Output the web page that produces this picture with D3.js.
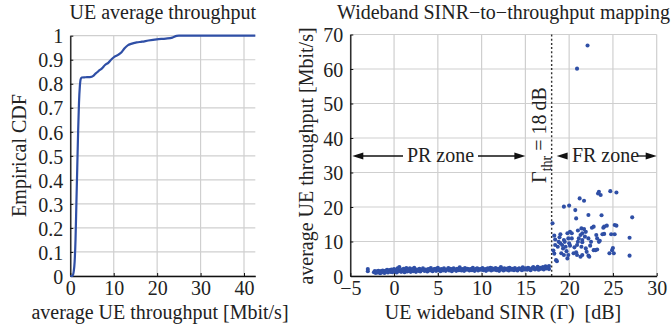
<!DOCTYPE html>
<html>
<head>
<meta charset="utf-8">
<script src="https://cdn.jsdelivr.net/npm/d3@7"></script>
<style>
  html, body { margin: 0; padding: 0; background: #fff; }
  svg { display: block; }
  text { font-family: "Liberation Serif", "DejaVu Serif", serif; fill: #222; }
</style>
</head>
<body>
<svg id="fig" width="671" height="327"></svg>
<script>
// ---- Left panel: empirical CDF of average UE throughput ----
const cdfThroughput = [0, 0.5, 0.8, 1.0, 1.2, 1.4, 1.6, 1.8, 2.0, 2.2, 2.4, 2.6, 3.5, 4.5, 5.3, 5.8, 6.5, 7.3, 8.0, 8.8, 9.5, 10.2, 11.0, 11.8, 12.5, 13.3, 14.0, 15.3, 16.5, 18.0, 19.9, 22.0, 23.5, 24.5, 25.0, 42.6];
const cdfValue      = [0, 0, 0.02, 0.06, 0.15, 0.30, 0.45, 0.60, 0.72, 0.79, 0.82, 0.826, 0.827, 0.828, 0.833, 0.842, 0.853, 0.864, 0.878, 0.888, 0.902, 0.913, 0.920, 0.931, 0.948, 0.961, 0.966, 0.972, 0.975, 0.980, 0.985, 0.988, 0.992, 0.999, 1, 1];
const cdfXTicks = [0, 10, 20, 30, 40];
const cdfYTicks = [0, 0.1, 0.2, 0.3, 0.4, 0.5, 0.6, 0.7, 0.8, 0.9, 1];

// ---- Right panel: wideband SINR vs. average throughput ----
// partial-reuse (PR) users below the threshold
const prSinr = [-3.0, -3.0,
  -2.3, -2.2, -2.1, -2.0, -1.9, -1.8, -1.7, -1.6, -1.5, -1.4,
  -1.3, -1.2, -1.1, -1.0, -0.9, -0.8, -0.7, -0.6, -0.5, -0.4,
  -0.3, -0.2, -0.1, 0.0, 0.1, 0.2, 0.3, 0.4, 0.5, 0.6,
  0.7, 0.8, 0.9, 1.0, 1.1, 1.2, 1.3, 1.4, 1.5, 1.6,
  1.7, 1.8, 1.9, 2.0, 2.1, 2.2, 2.3, 2.4, 2.5, 2.6,
  2.8, 2.9, 3.0, 3.2, 3.3, 3.5, 3.6, 3.8, 3.9, 4.1,
  4.2, 4.4, 4.5, 4.7, 4.8, 5.0, 5.1, 5.3, 5.4, 5.6,
  5.7, 5.9, 6.0, 6.2, 6.3, 6.5, 6.6, 6.8, 6.9, 7.1,
  7.2, 7.4, 7.5, 7.7, 7.8, 8.0, 8.1, 8.3, 8.4, 8.6,
  8.7, 8.9, 9.0, 9.2, 9.3, 9.5, 9.6, 9.8, 9.9, 10.1,
  10.2, 10.4, 10.5, 10.7, 10.8, 11.0, 11.1, 11.3, 11.4, 11.6,
  11.7, 11.9, 12.0, 12.2, 12.3, 12.5, 12.6, 12.8, 12.9, 13.1,
  13.2, 13.4, 13.5, 13.7, 13.8, 14.0, 14.1, 14.3, 14.4, 14.6,
  14.7, 14.9, 15.0, 15.2, 15.3, 15.5, 15.6, 15.8, 15.9, 16.1,
  16.2, 16.4, 16.5, 16.7, 16.8, 17.0, 17.1, 17.3, 17.4, 17.6,
  17.7, 17.7,
  -1.95, -1.45, -0.85, -0.25, 0.35, 0.95, 1.55, 2.15, 2.75, 3.4,
  4.0, 4.6, 5.2, 5.8, 6.4, 7.0, 7.6, 8.2, 8.8, 9.4,
  10.0, 10.6, 11.2, 11.8, 12.4, 13.0, 13.6, 14.2, 14.8, 15.4,
  16.0, 16.6, 17.2, 17.5];
const prTput = [2.0, 1.4,
  1.1, 1.4, 0.9, 1.3, 1.0, 1.5, 1.2, 0.8, 1.4, 1.1,
  1.6, 1.2, 0.9, 1.5, 1.3, 1.8, 1.0, 1.4, 1.7, 1.2,
  1.9, 1.1, 1.5, 2.0, 1.3, 1.7, 1.0, 2.2, 1.4, 2.6,
  1.6, 1.2, 1.9, 1.4, 2.1, 1.1, 1.7, 2.3, 1.3, 1.8,
  1.5, 2.2, 1.2, 1.6, 2.0, 1.4, 2.4, 1.7, 1.2, 1.9,
  1.5, 2.1, 1.3, 1.8, 2.2, 1.5, 1.9, 1.3, 2.0, 1.6,
  2.3, 1.4, 1.8, 2.1, 1.5, 2.4, 1.7, 1.4, 2.0, 1.6,
  2.2, 1.5, 1.9, 2.3, 1.6, 2.0, 1.4, 2.2, 1.8, 1.5,
  2.1, 1.7, 2.5, 1.6, 2.0, 1.5, 2.3, 1.8, 2.1, 1.6,
  2.0, 1.7, 2.4, 1.5, 1.9, 2.2, 1.6, 2.0, 1.8, 2.3,
  1.7, 2.0, 1.5, 2.2, 1.8, 2.4, 1.6, 2.0, 1.8, 2.3,
  1.7, 2.1, 1.5, 2.6, 1.9, 1.6, 2.2, 1.8, 2.0, 1.6,
  2.4, 1.8, 2.1, 1.7, 2.3, 1.9, 1.6, 2.2, 2.0, 1.7,
  2.5, 1.9, 2.2, 1.8, 2.4, 2.0, 1.7, 2.3, 2.6, 1.9,
  2.2, 2.7, 1.8, 2.4, 2.1, 2.6, 1.9, 2.8, 2.2, 2.5,
  2.0, 2.9,
  1.2, 1.0, 1.3, 1.6, 1.8, 1.7, 1.5, 1.9, 1.8, 1.6,
  1.9, 2.0, 1.9, 1.8, 2.1, 1.9, 1.8, 2.0, 1.9, 2.1,
  2.0, 1.9, 2.2, 1.9, 2.1, 2.2, 1.9, 2.1, 2.0, 2.2,
  2.1, 2.0, 2.3, 2.4];

// full-reuse (FR) users above the threshold
const frSinr = [18.1, 18.3, 18.2, 18.3, 18.4, 18.6, 18.5, 19.0, 18.8, 19.0,
  18.7, 19.2, 19.3, 19.4, 19.5, 19.6, 19.1, 19.4, 19.8, 19.9,
  20.1, 20.3, 20.0, 20.1, 20.3, 19.9, 19.8, 20.5, 20.8, 20.9,
  21.0, 21.1, 21.3, 21.4, 21.7, 21.9, 21.5, 21.8, 21.5, 21.5,
  21.4, 21.9, 20.9, 21.3, 21.5, 22.0, 22.2, 22.3, 22.8, 23.0,
  23.2, 22.2, 22.5, 22.6, 22.8, 23.1, 23.2, 23.4, 23.8, 24.0,
  19.4, 20.0, 20.7, 20.8, 21.2, 21.7, 22.2, 23.4, 23.6, 23.3,
  24.7, 25.4, 23.7, 27.2, 23.9, 24.3, 25.2, 25.4, 24.0, 24.8,
  25.2, 26.9, 25.0, 24.9, 24.6, 25.1, 26.9, 18.9, 19.7, 20.6,
  21.0, 22.4, 23.5, 18.4,
  20.9, 22.1];
const frTput = [15.3, 11.7, 7.4, 6.5, 9.0, 4.3, 4.6, 12.1, 9.9, 9.5,
  8.5, 9.0, 8.0, 10.4, 9.9, 8.5, 6.6, 6.1, 12.4, 10.9,
  12.8, 12.4, 9.5, 8.8, 10.9, 6.1, 5.1, 6.6, 6.9, 9.0,
  9.9, 10.9, 11.9, 13.8, 13.6, 12.8, 12.4, 11.4, 10.4, 9.8,
  8.5, 8.0, 6.1, 5.6, 6.1, 7.0, 5.9, 5.6, 7.5, 7.5,
  7.7, 10.9, 9.9, 14.0, 14.3, 11.9, 10.9, 9.9, 12.1, 14.3,
  20.1, 20.4, 19.1, 16.7, 22.5, 21.8, 17.7, 24.4, 23.5, 23.9,
  24.6, 24.2, 17.6, 17.0, 14.0, 14.6, 14.8, 14.6, 12.2, 12.1,
  12.1, 11.1, 8.1, 7.5, 6.6, 6.6, 5.9, 11.2, 7.2, 8.3,
  13.2, 8.8, 10.2, 10.6,
  60.1, 66.8];
const sinrThreshold = 18;
const scXTicks = [-5, 0, 5, 10, 15, 20, 25, 30];
const scYTicks = [0, 10, 20, 30, 40, 50, 60, 70];

const blue = "#2f4fa6";
const gridCol = "#cfcfcf";
const svg = d3.select("#fig");

// shared axis helpers
function drawGrid(g, x, y, xt, yt) {
  const [x0, x1] = x.range(), [y0, y1] = y.range();
  g.append("g").selectAll("line.v").data(xt).join("line")
    .attr("x1", d => x(d)).attr("x2", d => x(d)).attr("y1", y0).attr("y2", y1)
    .attr("stroke", gridCol).attr("stroke-width", 1.2);
  g.append("g").selectAll("line.h").data(yt).join("line")
    .attr("x1", x0).attr("x2", x1).attr("y1", d => y(d)).attr("y2", d => y(d))
    .attr("stroke", gridCol).attr("stroke-width", 1.2);
}
function drawAxes(g, x, y, xt, yt, yfmt) {
  const [x0] = x.range(), [y0] = y.range();
  const ax = g.append("g").attr("transform", `translate(0,${y0})`)
    .call(d3.axisBottom(x).tickValues(xt).tickSizeInner(-3).tickSizeOuter(0).tickPadding(5)
      .tickFormat(d => d < 0 ? "\u2212" + Math.abs(d) : d));
  const ay = g.append("g").attr("transform", `translate(${x0},0)`)
    .call(d3.axisLeft(y).tickValues(yt).tickSizeInner(-3).tickSizeOuter(0).tickPadding(7)
      .tickFormat(yfmt));
  [ax, ay].forEach(a => {
    a.select(".domain").attr("stroke", "#111").attr("stroke-width", 1.3);
    a.selectAll(".tick line").attr("stroke", "#111");
    a.selectAll("text").attr("font-size", 20).attr("font-family", "Liberation Serif, serif").attr("fill", "#222");
  });
  ay.selectAll("text").attr("dy", "0.36em");
  ax.selectAll("text").attr("dy", "0.71em");
}

// ---------- left panel ----------
const xL = d3.scaleLinear().domain([0, 42.6]).range([70.3, 255.3]);
const yL = d3.scaleLinear().domain([0, 1]).range([276, 35.7]);
const gL = svg.append("g");
drawGrid(gL, xL, yL, cdfXTicks, cdfYTicks);
drawAxes(gL, xL, yL, cdfXTicks, cdfYTicks, d => d === 0 ? "0" : d === 1 ? "1" : d3.format(".1f")(d));
gL.append("path")
  .datum(cdfThroughput.map((t, i) => [t, cdfValue[i]]))
  .attr("d", d3.line().x(d => xL(d[0])).y(d => yL(d[1])).curve(d3.curveMonotoneX))
  .attr("fill", "none").attr("stroke", blue).attr("stroke-width", 2.2);
gL.append("text").attr("x", 162.8).attr("y", 19).attr("text-anchor", "middle")
  .attr("font-size", 20).text("UE average throughput");
gL.append("text").attr("x", 160).attr("y", 318.5).attr("text-anchor", "middle")
  .attr("font-size", 20).text("average UE throughput [Mbit/s]");
gL.append("text").attr("transform", "translate(26,155.5) rotate(-90)").attr("text-anchor", "middle")
  .attr("font-size", 20).text("Empirical CDF");

// ---------- right panel ----------
const xR = d3.scaleLinear().domain([-5, 30]).range([350.3, 656.7]);
const yR = d3.scaleLinear().domain([0, 70]).range([276, 34.5]);
const gR = svg.append("g");
drawGrid(gR, xR, yR, scXTicks, scYTicks);
drawAxes(gR, xR, yR, scXTicks, scYTicks, d => d);

// threshold marker
gR.append("line")
  .attr("x1", xR(sinrThreshold)).attr("x2", xR(sinrThreshold))
  .attr("y1", yR(70)).attr("y2", yR(0))
  .attr("stroke", "#333").attr("stroke-width", 1.4).attr("stroke-dasharray", "2,2.2");

// scatter
const pts = prSinr.map((s, i) => [s, prTput[i]]).concat(frSinr.map((s, i) => [s, frTput[i]]));
gR.append("g").selectAll("circle").data(pts).join("circle")
  .attr("cx", d => xR(d[0])).attr("cy", d => yR(d[1])).attr("r", 2.05)
  .attr("fill", blue);

// zone annotations
const zoneY = 156;
function arrowHead(x, dir) {
  // dir = -1 points left, +1 points right
  const L = 11, H = 3.6;
  gR.append("path")
    .attr("d", `M${x},${zoneY} L${x - dir * L},${zoneY - H} L${x - dir * L},${zoneY + H} Z`)
    .attr("fill", "#111");
}
const prLeft = xR(-5) + 2, prRight = xR(15);
gR.append("line").attr("x1", prLeft + 6).attr("x2", 403).attr("y1", zoneY).attr("y2", zoneY).attr("stroke", "#111").attr("stroke-width", 1.3);
gR.append("line").attr("x1", 478).attr("x2", prRight - 6).attr("y1", zoneY).attr("y2", zoneY).attr("stroke", "#111").attr("stroke-width", 1.3);
arrowHead(prLeft, -1);
arrowHead(prRight, 1);
gR.append("text").attr("x", 440.5).attr("y", 161.5).attr("text-anchor", "middle").attr("font-size", 20).text("PR zone");

const frLeft = xR(sinrThreshold) + 5, frRight = xR(30);
arrowHead(frLeft, -1);
gR.append("line").attr("x1", 638).attr("x2", frRight - 6).attr("y1", zoneY).attr("y2", zoneY).attr("stroke", "#111").attr("stroke-width", 1.3);
arrowHead(frRight, 1);
gR.append("text").attr("x", 605.5).attr("y", 161.5).attr("text-anchor", "middle").attr("font-size", 20).text("FR zone");

// rotated threshold label
const thr = gR.append("text").attr("transform", "translate(546,135) rotate(-90)")
  .attr("text-anchor", "middle").attr("font-size", 20);
thr.append("tspan").text("\u0393");
thr.append("tspan").attr("font-size", 14).attr("dy", 5).text("thr");
thr.append("tspan").attr("dy", -5).text(" = 18\u2009dB");

gR.append("text").attr("x", 503.5).attr("y", 19).attr("text-anchor", "middle")
  .attr("font-size", 20).text("Wideband SINR\u2212to\u2212throughput mapping");
gR.append("text").attr("x", 503).attr("y", 318.5).attr("text-anchor", "middle")
  .attr("font-size", 20).attr("xml:space", "preserve").text("UE wideband SINR (\u0393)  [dB]");
gR.append("text").attr("transform", "translate(313,156) rotate(-90)").attr("text-anchor", "middle")
  .attr("font-size", 20).text("average UE throughput [Mbit/s]");
</script>
</body>
</html>
